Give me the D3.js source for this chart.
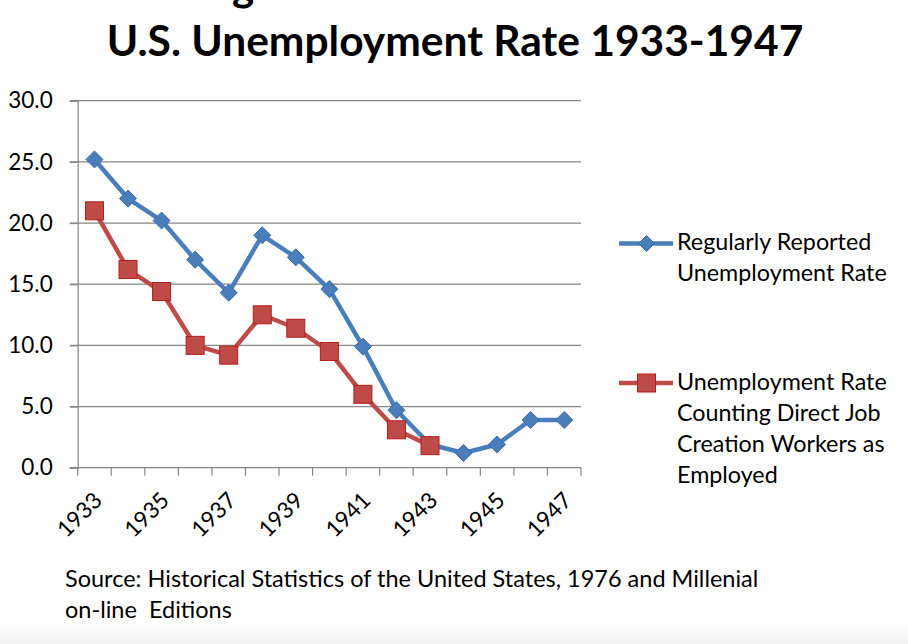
<!DOCTYPE html>
<html>
<head>
<meta charset="utf-8">
<script src="https://cdn.jsdelivr.net/npm/d3@7"></script>
<style>
  html, body { margin: 0; padding: 0; background: #fff; }
  svg { display: block; font-family: Lato, "Open Sans", sans-serif; }
</style>
</head>
<body>
<svg id="chart" width="908" height="644"></svg>
<script>
const years = [1933,1934,1935,1936,1937,1938,1939,1940,1941,1942,1943,1944,1945,1946,1947];
const regularRate = [25.2,22.0,20.2,17.0,14.3,19.0,17.2,14.6,9.9,4.7,1.9,1.2,1.9,3.9,3.9];
const directJobYears = [1933,1934,1935,1936,1937,1938,1939,1940,1941,1942,1943];
const directJobRate = [21.0,16.2,14.4,10.0,9.2,12.5,11.4,9.5,6.0,3.1,1.8];
const yTicks = [0,5,10,15,20,25,30];
const xLabelYears = [1933,1935,1937,1939,1941,1943,1945,1947];
const seriesNames = [["Regularly Reported","Unemployment Rate"],
                     ["Unemployment Rate","Counting Direct Job","Creation Workers as","Employed"]];
const titleText = "U.S. Unemployment Rate 1933-1947";
const sourceLines = ["Source: Historical Statistics of the United States, 1976 and Millenial","on-line  Editions"];

const svg = d3.select("#chart");
const blue = "#4A7EBB", blueDark = "#3C6DA8", red = "#BE4B48", redDark = "#B31E1A";
const grid = "#868686";

// faint bottom shading
const defs = svg.append("defs");
const lg = defs.append("linearGradient").attr("id","fade").attr("x1",0).attr("y1",0).attr("x2",0).attr("y2",1);
lg.append("stop").attr("offset","0").attr("stop-color","#ffffff");
lg.append("stop").attr("offset","1").attr("stop-color","#f1f1f1");
svg.append("rect").attr("x",0).attr("y",622).attr("width",908).attr("height",22).attr("fill","url(#fade)");

// partial line above title (descender only visible)
svg.append("text").attr("x",243).attr("y",1).attr("text-anchor","middle")
  .attr("font-size",42).attr("font-weight","bold").attr("fill","#000").text("g");

svg.append("text").attr("x",455).attr("y",56).attr("text-anchor","middle")
  .attr("font-size",42.5).attr("font-weight","bold").attr("fill","#000").text(titleText);

const x = d3.scaleBand().domain(years).range([77.7, 581]);
const y = d3.scaleLinear().domain([0,30]).range([467.7, 100.7]);

// gridlines
svg.append("g").selectAll("line").data(yTicks.filter(d=>d>0)).join("line")
  .attr("x1",70).attr("x2",581).attr("y1",d=>y(d)).attr("y2",d=>y(d))
  .attr("stroke",grid).attr("stroke-width",1.2);

// y axis
const yAxis = d3.axisLeft(y).tickValues(yTicks).tickSize(8).tickPadding(17).tickFormat(d3.format(".1f"));
const yg = svg.append("g").attr("transform","translate(77.7,0)").call(yAxis);
yg.select(".domain").attr("stroke",grid).attr("stroke-width",1.2);
yg.selectAll(".tick line").attr("stroke",grid).attr("stroke-width",1.2);
yg.selectAll(".tick text").attr("font-size",22.5).attr("font-family","Lato, sans-serif").attr("fill","#000");

// x axis
const bw = x.bandwidth();
const xBoundaries = years.map(d=>x(d)).concat([x(years[years.length-1])+bw]);
const xg = svg.append("g");
xg.append("line").attr("x1",70).attr("x2",581).attr("y1",y(0)).attr("y2",y(0)).attr("stroke",grid).attr("stroke-width",1.2);
xg.selectAll("line.tk").data(xBoundaries).join("line").attr("class","tk")
  .attr("x1",d=>d).attr("x2",d=>d).attr("y1",y(0)).attr("y2",y(0)+8)
  .attr("stroke",grid).attr("stroke-width",1.2);
xg.selectAll("text").data(xLabelYears).join("text")
  .attr("transform",d=>`translate(${x(d)+bw/2+9},${y(0)+34}) rotate(-45)`)
  .attr("text-anchor","end").attr("font-size",22.5).attr("fill","#000")
  .text(d=>d);

const line = d3.line().x(d=>x(d[0])+bw/2).y(d=>y(d[1]));
const blueData = years.map((d,i)=>[d,regularRate[i]]);
const redData = directJobYears.map((d,i)=>[d,directJobRate[i]]);

svg.append("path").datum(blueData).attr("d",line).attr("fill","none")
  .attr("stroke",blue).attr("stroke-width",4.5).attr("stroke-linejoin","round");
svg.append("path").datum(redData).attr("d",line).attr("fill","none")
  .attr("stroke",red).attr("stroke-width",4.5).attr("stroke-linejoin","round");

const diamond = (cx,cy,r)=>`M${cx},${cy-r}L${cx+r},${cy}L${cx},${cy+r}L${cx-r},${cy}Z`;
svg.append("g").selectAll("path").data(blueData).join("path")
  .attr("d",d=>diamond(x(d[0])+bw/2,y(d[1]),8.5))
  .attr("fill",blue).attr("stroke",blueDark).attr("stroke-width",1);
svg.append("g").selectAll("rect").data(redData).join("rect")
  .attr("x",d=>x(d[0])+bw/2-9).attr("y",d=>y(d[1])-9).attr("width",18).attr("height",18)
  .attr("fill",red).attr("stroke",redDark).attr("stroke-width",1);

// legend
const lgd = svg.append("g");
lgd.append("line").attr("x1",619).attr("x2",673).attr("y1",243.5).attr("y2",243.5).attr("stroke",blue).attr("stroke-width",4.5);
lgd.append("path").attr("d",diamond(646.5,243.5,8)).attr("fill",blue).attr("stroke",blueDark);
lgd.append("line").attr("x1",619).attr("x2",673).attr("y1",383).attr("y2",383).attr("stroke",red).attr("stroke-width",4.5);
lgd.append("rect").attr("x",637.5).attr("y",374).attr("width",18).attr("height",18).attr("fill",red).attr("stroke",redDark);
const legendTop = [250, 390];
seriesNames.forEach((lines,si)=>{
  lgd.append("g").selectAll("text").data(lines).join("text")
    .attr("x",677).attr("y",(d,i)=>legendTop[si]+i*31)
    .attr("font-size",23.3).attr("fill","#000").text(d=>d);
});

// source
svg.append("g").selectAll("text").data(sourceLines).join("text")
  .attr("x",65).attr("y",(d,i)=>587+i*31).attr("font-size",23.5).attr("fill","#000")
  .attr("xml:space","preserve").style("white-space","pre").text(d=>d);
</script>
</body>
</html>
